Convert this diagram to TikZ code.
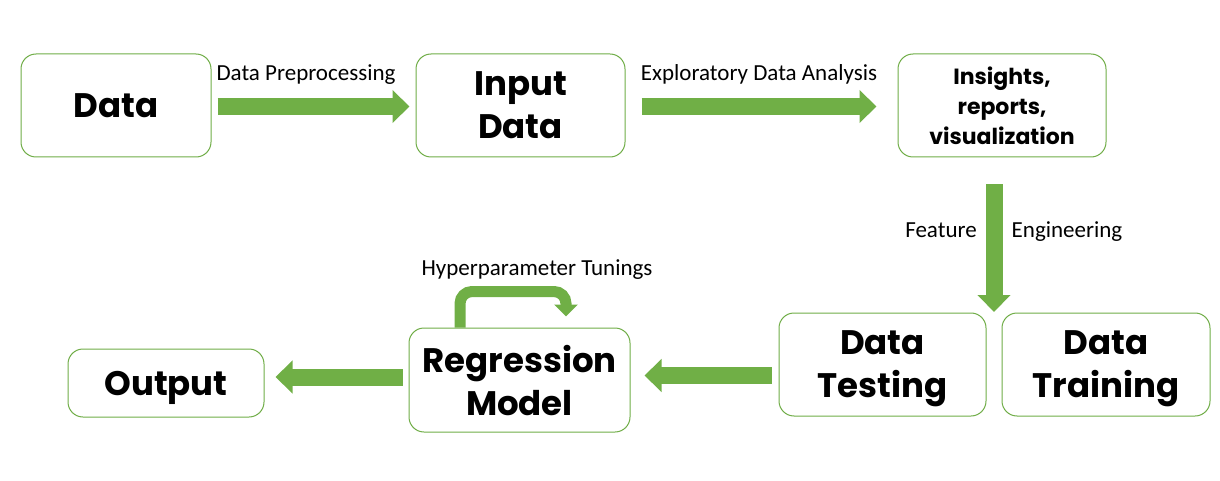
\documentclass[tikz,border=0pt]{standalone}
\usepackage{fontspec}
\setmainfont{Carlito}
\newfontfamily\boxfont{Poppins}
\usetikzlibrary{arrows.meta}
\definecolor{boxgreen}{RGB}{112,173,71}
\definecolor{arrowgreen}{RGB}{112,175,70}
\tikzset{
  stagebox/.style={draw=boxgreen, line width=1pt, rounded corners=15pt, fill=white, align=center, inner sep=0pt, text depth=0pt, font=\boxfont\bfseries\fontsize{34}{43}\selectfont},
  flow/.style={draw=arrowgreen, line width=17pt, -{Triangle[width=32pt,length=17pt]}},
  tuneflow/.style={draw=arrowgreen, line width=11pt, rounded corners=12pt, -{Triangle[width=23pt,length=12pt]}},
  steplabel/.style={font=\fontsize{23}{28}\selectfont, inner sep=0pt, text height=15pt, text depth=5pt}
}
\begin{document}
\begin{tikzpicture}[x=1pt,y=-1pt]
\useasboundingbox (0,0) rectangle (1220,481);
\coordinate (c_data) at (116,105.5);
\coordinate (c_input) at (520.5,105.5);
\coordinate (c_ins) at (1002,105.5);
\coordinate (c_test) at (882.5,364.5);
\coordinate (c_train) at (1106,364.5);
\coordinate (c_reg) at (519.5,380);
\coordinate (c_out) at (166,383);

\node[stagebox, minimum width=190pt, minimum height=103pt] (data) at (c_data) {Data};
\node[stagebox, minimum width=209pt, minimum height=103pt] (input) at (c_input) {Input\\Data};
\node[stagebox, minimum width=208pt, minimum height=103pt, font=\boxfont\bfseries\fontsize{22}{30}\selectfont] (ins) at (c_ins) {Insights,\\reports,\\visualization};
\node[stagebox, minimum width=207pt, minimum height=103pt] (test) at (c_test) {Data\\Testing};
\node[stagebox, minimum width=208pt, minimum height=103pt] (train) at (c_train) {Data\\Training};
\node[stagebox, minimum width=221pt, minimum height=104pt] (reg) at (c_reg) {Regression\\Model};
\node[stagebox, minimum width=196pt, minimum height=68pt] (out) at (c_out) {Output};

%\coordinate (down_top) at (994,184);
\coordinate (down_end) at (994,312);

\draw[flow, shorten <=6pt, shorten >=6pt] ([yshift=-1pt]data.east) -- ([yshift=-1pt]input.west);
\draw[flow, shorten <=16pt, shorten >=21pt] ([yshift=-1pt]input.east) -- ([yshift=-1pt]ins.west);
\draw[flow, shorten <=27pt] (ins.south -| down_end) -- (down_end);
\draw[flow, shorten <=7pt, shorten >=14pt] ([yshift=-11pt]test.west) -- ([yshift=-11pt]test.west -| reg.east);
\draw[flow, shorten <=6pt, shorten >=11pt] ([yshift=3pt]reg.west) -- ([yshift=6pt]out.east);
\draw[tuneflow] ([xshift=-59.5pt]reg.north) -- ++(0,-36) -- ++(106,0) -- ++(0,25);

\node[steplabel] (l_pre) at (306,76) {Data Preprocessing};
\node[steplabel] (l_eda) at (759,76) {Exploratory Data Analysis};
\node[steplabel] (l_feat) at (941,232) {Feature};
\node[steplabel] (l_eng) at (1067,232) {Engineering};
\node[steplabel] (l_hyp) at (537,270) {Hyperparameter Tunings};
\end{tikzpicture}
\end{document}
